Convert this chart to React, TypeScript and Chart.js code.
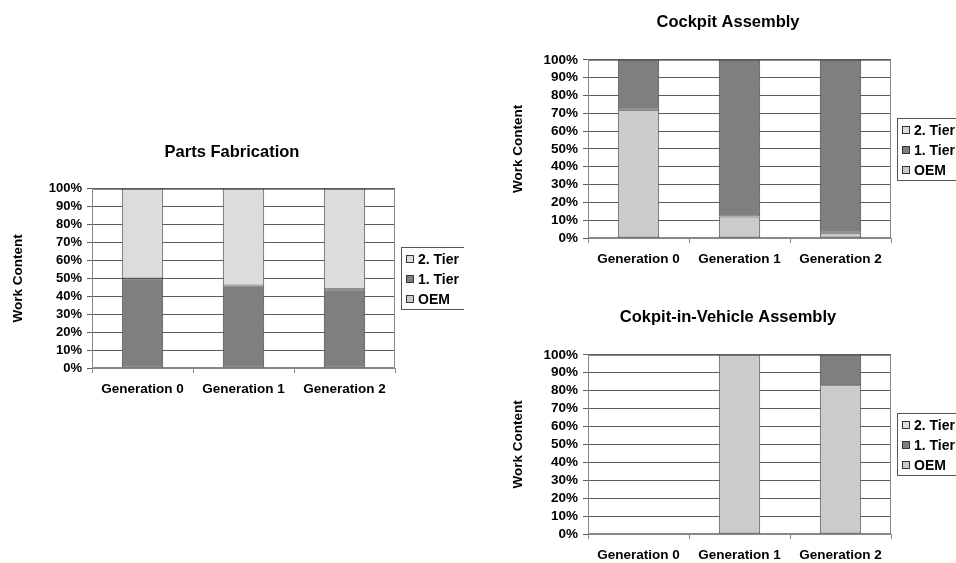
import { useEffect, useRef } from "react";
import { Chart, registerables } from "chart.js";

Chart.register(...registerables);

const FONT = "Arial, 'Liberation Sans', sans-serif";

const generations = ["Generation 0", "Generation 1", "Generation 2"];
const seriesNames = ["OEM", "1. Tier", "2. Tier"];
const seriesColors = ["#cbcbcb", "#7f7f7f", "#dcdcdc"];

// Parts Fabrication (percent of work content)
const partsOem = [0, 0, 0];
const partsTier1 = [50, 46, 44];
const partsTier2 = [50, 54, 56];

// Cockpit Assembly
const cockpitOem = [72, 12, 3];
const cockpitTier1 = [28, 88, 97];
const cockpitTier2 = [0, 0, 0];

// Cokpit-in-Vehicle Assembly
const vehicleOem = [0, 100, 83];
const vehicleTier1 = [0, 0, 17];
const vehicleTier2 = [0, 0, 0];

const yAxisTitle = "Work Content";

// Frame around the plot area
const plotFrame = {
  id: "plotFrame",
  beforeDatasetsDraw(chart: any) {
    const { ctx, chartArea } = chart;
    ctx.save();
    ctx.strokeStyle = "#888888";
    ctx.lineWidth = 1;
    ctx.strokeRect(
      Math.round(chartArea.left) + 0.5,
      Math.round(chartArea.top) + 0.5,
      Math.round(chartArea.right - chartArea.left) - 1,
      Math.round(chartArea.bottom - chartArea.top) - 1
    );
    ctx.restore();
  },
};

// Boxed legend to the right of the plot, listing series top-down in reverse stack order
const legendBox = {
  id: "legendBox",
  afterDraw(chart: any) {
    const { ctx, chartArea } = chart;
    const left = Math.round(chartArea.right + 6);
    const cy = Math.round((chartArea.top + chartArea.bottom) / 2);
    const w = 64;
    const h = 62;
    ctx.save();
    ctx.strokeStyle = "#555555";
    ctx.lineWidth = 1;
    ctx.strokeRect(left + 0.5, cy - h / 2 + 0.5, w, h);
    const items = chart.data.datasets.slice().reverse();
    ctx.font = `bold 14px ${FONT}`;
    ctx.textBaseline = "middle";
    ctx.textAlign = "left";
    items.forEach((d: any, i: number) => {
      const y = cy - 19 + i * 20;
      ctx.fillStyle = d.backgroundColor;
      ctx.fillRect(left + 5, y - 4, 8, 8);
      ctx.strokeStyle = "#333333";
      ctx.strokeRect(left + 5.5, y - 3.5, 7, 7);
      ctx.fillStyle = "#000000";
      ctx.fillText(d.label, left + 17, y + 1);
    });
    ctx.restore();
  },
};

type PanelProps = {
  title: string;
  oem: number[];
  tier1: number[];
  tier2: number[];
  left: number;
  top: number;
  width: number;
  height: number;
  yWidth: number;
  yTickSize: number;
  legendSpace: number;
  xHeight: number;
  titlePadTop: number;
  titlePadBottom: number;
};

function StackedPanel(p: PanelProps) {
  const ref = useRef<HTMLCanvasElement | null>(null);

  useEffect(() => {
    if (!ref.current) return;
    const values = [p.oem, p.tier1, p.tier2];
    const chart = new Chart(ref.current, {
      type: "bar",
      data: {
        labels: generations,
        datasets: seriesNames.map((name, i) => ({
          label: name,
          // empty segments are left out so they leave no outline
          data: values[i].map((v) => (v === 0 ? null : v)),
          backgroundColor: seriesColors[i],
          borderColor: "#4a4a4a",
          borderWidth: 1,
          borderSkipped: false,
          categoryPercentage: 1,
          barPercentage: 0.41,
        })),
      },
      options: {
        responsive: false,
        animation: false,
        layout: { padding: 0 },
        plugins: {
          legend: { display: false },
          tooltip: { enabled: false },
          title: {
            display: true,
            text: p.title,
            color: "#000000",
            font: { family: FONT, size: 16.5, weight: "bold" },
            padding: { top: p.titlePadTop, bottom: p.titlePadBottom },
          },
        },
        scales: {
          x: {
            stacked: true,
            offset: true,
            grid: {
              display: true,
              drawOnChartArea: false,
              drawTicks: true,
              tickLength: 5,
              offset: true,
              color: "#888888",
            },
            border: { display: true, color: "#888888" },
            ticks: {
              color: "#000000",
              padding: 8,
              maxRotation: 0,
              autoSkip: false,
              font: { family: FONT, size: 13.5, weight: "bold" },
            },
            afterFit: (s: any) => {
              s.height = p.xHeight;
            },
          },
          y: {
            stacked: true,
            min: 0,
            max: 100,
            ticks: {
              stepSize: 10,
              autoSkip: false,
              color: "#000000",
              padding: 5,
              font: { family: FONT, size: p.yTickSize, weight: "bold" },
              callback: (v: any) => `${v}%`,
            },
            grid: { color: "#5c5c5c", tickLength: 5, drawTicks: true },
            border: { display: true, color: "#888888" },
            title: {
              display: true,
              text: yAxisTitle,
              color: "#000000",
              padding: { top: 10, bottom: 0 },
              font: { family: FONT, size: 13.5, weight: "bold" },
            },
            afterFit: (s: any) => {
              s.width = p.yWidth;
            },
          },
          legendSpace: {
            type: "linear",
            position: "right",
            display: true,
            grid: { display: false },
            ticks: { display: false },
            border: { display: false },
            afterFit: (s: any) => {
              s.width = p.legendSpace;
            },
          },
        },
      } as any,
      plugins: [plotFrame, legendBox],
    });
    return () => chart.destroy();
  }, []);

  return (
    <canvas
      ref={ref}
      width={p.width}
      height={p.height}
      style={{
        position: "absolute",
        left: p.left,
        top: p.top,
        width: p.width,
        height: p.height,
      }}
    />
  );
}

export default function App() {
  return (
    <div
      style={{
        position: "fixed",
        left: 0,
        top: 0,
        width: 956,
        height: 563,
        background: "#ffffff",
        overflow: "hidden",
      }}
    >
      <StackedPanel
        title="Parts Fabrication"
        oem={partsOem}
        tier1={partsTier1}
        tier2={partsTier2}
        left={0}
        top={130}
        width={464}
        height={278}
        yWidth={92}
        yTickSize={13}
        legendSpace={69}
        xHeight={40}
        titlePadTop={13}
        titlePadBottom={26}
      />
      <StackedPanel
        title="Cockpit Assembly"
        oem={cockpitOem}
        tier1={cockpitTier1}
        tier2={cockpitTier2}
        left={500}
        top={0}
        width={456}
        height={278}
        yWidth={88}
        yTickSize={13.5}
        legendSpace={65}
        xHeight={40}
        titlePadTop={13}
        titlePadBottom={27}
      />
      <StackedPanel
        title="Cokpit-in-Vehicle Assembly"
        oem={vehicleOem}
        tier1={vehicleTier1}
        tier2={vehicleTier2}
        left={500}
        top={295}
        width={456}
        height={268}
        yWidth={88}
        yTickSize={13.5}
        legendSpace={65}
        xHeight={29}
        titlePadTop={13}
        titlePadBottom={27}
      />
    </div>
  );
}
